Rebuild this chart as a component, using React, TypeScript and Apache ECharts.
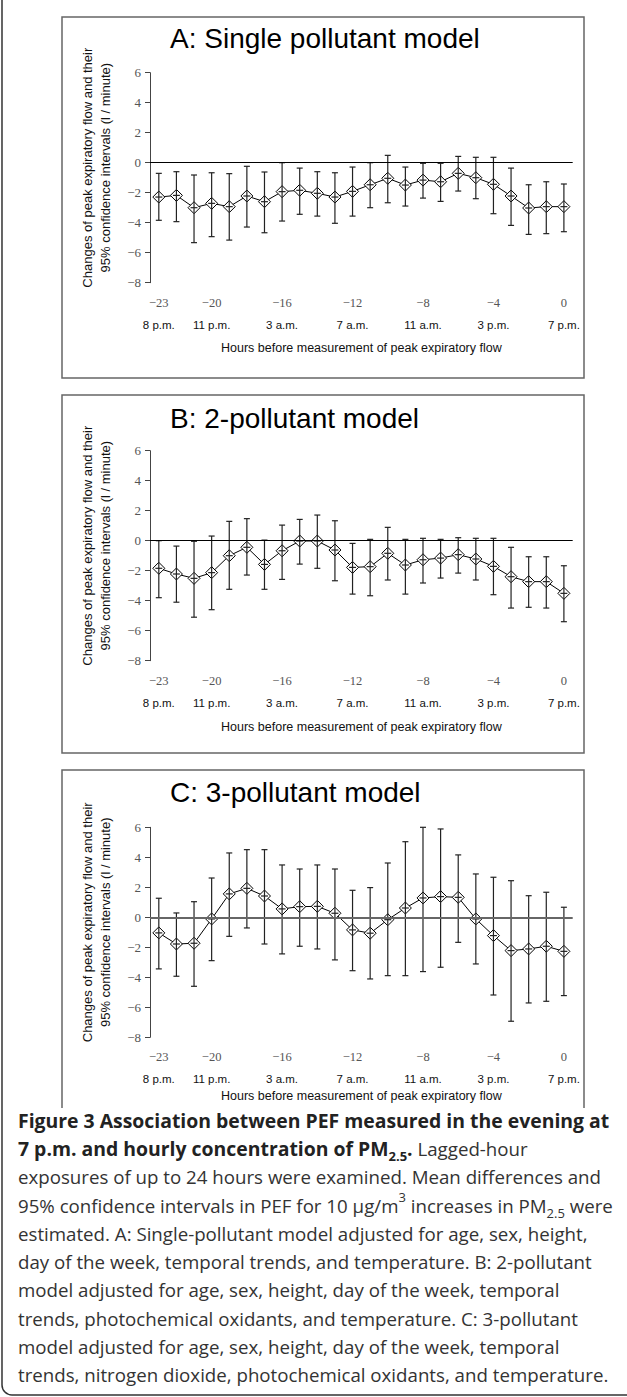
import React, { useEffect, useRef } from "react";
import * as echarts from "echarts";

// ---------- data ----------
const lags = ["-23", "-22", "-21", "-20", "-19", "-18", "-17", "-16", "-15", "-14", "-13", "-12",
  "-11", "-10", "-9", "-8", "-7", "-6", "-5", "-4", "-3", "-2", "-1", "0"];
const tickLags = ["-23", "-20", "-16", "-12", "-8", "-4", "0"];
const timeLabels = ["8 p.m.", "11 p.m.", "3 a.m.", "7 a.m.", "11 a.m.", "3 p.m.", "7 p.m."];
const yTicks = [-8, -6, -4, -2, 0, 2, 4, 6];

const panelTitles = ["A: Single pollutant model", "B: 2-pollutant model", "C: 3-pollutant model"];

const meanA = [-2.29, -2.18, -3.0, -2.71, -2.93, -2.22, -2.6, -1.93, -1.84, -2.04, -2.29, -1.91,
  -1.47, -1.04, -1.49, -1.16, -1.27, -0.71, -1.0, -1.44, -2.22, -3.02, -2.93, -2.93];
const upperA = [-0.71, -0.6, -0.82, -0.67, -0.73, -0.24, -0.62, 0.0, -0.36, -0.6, -0.67, -0.29,
  0.0, 0.49, -0.29, -0.04, -0.04, 0.42, 0.36, 0.36, -0.36, -1.47, -1.27, -1.42];
const lowerA = [-3.84, -3.93, -5.33, -4.93, -5.16, -4.29, -4.67, -3.89, -3.44, -3.56, -4.04, -3.56,
  -3.0, -2.67, -2.89, -2.36, -2.58, -1.89, -2.4, -3.4, -4.18, -4.78, -4.73, -4.6];

const meanB = [-1.84, -2.22, -2.51, -2.13, -1.0, -0.44, -1.58, -0.67, -0.02, -0.02, -0.62, -1.78,
  -1.73, -0.84, -1.62, -1.27, -1.16, -0.93, -1.22, -1.71, -2.4, -2.73, -2.73, -3.51];
const upperB = [0.0, -0.36, -0.04, 0.31, 1.29, 1.47, 0.04, 1.04, 1.42, 1.71, 1.33, -0.18,
  0.09, 0.89, 0.09, 0.16, 0.09, 0.2, 0.16, 0.16, -0.44, -1.07, -1.07, -1.67];
const lowerB = [-3.8, -4.1, -5.1, -4.6, -3.24, -2.29, -3.24, -2.58, -1.56, -1.84, -2.67, -3.56,
  -3.67, -2.62, -3.56, -2.82, -2.49, -2.16, -2.62, -3.6, -4.49, -4.44, -4.49, -5.4];

const meanC = [-1.04, -1.78, -1.73, -0.11, 1.56, 1.93, 1.42, 0.56, 0.71, 0.73, 0.27, -0.84,
  -1.06, -0.16, 0.62, 1.29, 1.38, 1.33, -0.11, -1.22, -2.22, -2.11, -1.93, -2.27];
const upperC = [1.27, 0.29, 1.04, 2.62, 4.29, 4.51, 4.51, 3.49, 3.22, 3.49, 3.22, 1.8,
  1.98, 3.62, 5.04, 6.0, 5.89, 4.16, 2.89, 2.67, 2.44, 1.44, 1.67, 0.67];
const lowerC = [-3.44, -3.93, -4.6, -2.89, -1.27, -0.71, -1.78, -2.44, -1.93, -2.11, -2.84, -3.56,
  -4.11, -3.89, -3.89, -3.62, -3.33, -1.67, -3.11, -5.18, -6.93, -5.71, -5.6, -5.22];

const yTitleLines = ["Changes of peak expiratory flow and their", "95% confidence intervals (l / minute)"];
const xTitle = "Hours before measurement of peak expiratory flow";

const captionRich =
  "{b|Figure 3 Association between PEF measured in the evening at}\n" +
  "{b|7 p.m. and hourly concentration of PM}{bs|2.5}{b|.}{r| Lagged-hour}\n" +
  "{r|exposures of up to 24 hours were examined. Mean differences and}\n" +
  "{r|95% confidence intervals in PEF for 10 µg/m}{sup|3}{r| increases in PM}{sub|2.5}{r| were}\n" +
  "{r|estimated. A: Single-pollutant model adjusted for age, sex, height,}\n" +
  "{r|day of the week, temporal trends, and temperature. B: 2-pollutant}\n" +
  "{r|model adjusted for age, sex, height, day of the week, temporal}\n" +
  "{r|trends, photochemical oxidants, and temperature. C: 3-pollutant}\n" +
  "{r|model adjusted for age, sex, height, day of the week, temporal}\n" +
  "{r|trends, nitrogen dioxide, photochemical oxidants, and temperature.}";

const panels = [
  { mean: meanA, upper: upperA, lower: lowerA },
  { mean: meanB, upper: upperB, lower: lowerB },
  { mean: meanC, upper: upperC, lower: lowerC },
];

// ---------- layout ----------
const W = 627;
const H = 1397;
const GRID_LEFT = 150;
const GRID_W = 422.7;
const GRID_H = 210;
const gridTops = [72.7, 450.7, 827.3];
const titleY = [38, 418, 792];
const xTitleOffset = [65, 66, 59];
const zeroLineColor = ["#000", "#000", "#666"];
const zeroLineWidth = [1, 1, 1.8];

const minus = (s: string) => s.replace("-", "\u2212");

function errorRender(params: any, api: any) {
  const x = api.value(0);
  const lo = api.coord([x, api.value(1)]);
  const hi = api.coord([x, api.value(2)]);
  const mid = api.coord([x, api.value(3)]);
  const cap = 3;
  const cross = 3.5;
  const style = { stroke: "#222", lineWidth: 1.2 };
  return {
    type: "group",
    children: [
      { type: "line", shape: { x1: hi[0], y1: hi[1], x2: lo[0], y2: lo[1] }, style },
      { type: "line", shape: { x1: hi[0] - cap, y1: hi[1], x2: hi[0] + cap, y2: hi[1] }, style },
      { type: "line", shape: { x1: lo[0] - cap, y1: lo[1], x2: lo[0] + cap, y2: lo[1] }, style },
      { type: "line", shape: { x1: mid[0] - cross, y1: mid[1], x2: mid[0] + cross, y2: mid[1] }, style },
    ],
  };
}

function buildOption() {
  const tickIdx = tickLags.map((t) => lags.indexOf(t));
  const grids: any[] = [];
  const xAxes: any[] = [];
  const yAxes: any[] = [];
  const series: any[] = [];
  const graphics: any[] = [];

  // outer rounded frame (only left/bottom visible)
  graphics.push({
    type: "rect",
    shape: { x: 2, y: -20, width: 700, height: 1415, r: 10 },
    style: { fill: "none", stroke: "#333", lineWidth: 1.5 },
  });
  // panel boxes
  graphics.push({
    type: "rect",
    shape: { x: 62, y: 17, width: 522, height: 361 },
    style: { fill: "none", stroke: "#666", lineWidth: 1.5 },
  });
  graphics.push({
    type: "rect",
    shape: { x: 62, y: 395, width: 522, height: 358 },
    style: { fill: "none", stroke: "#666", lineWidth: 1.5 },
  });
  graphics.push({
    type: "polyline",
    shape: { points: [[62, 1108], [62, 770], [584, 770], [584, 1108]] },
    style: { fill: "none", stroke: "#666", lineWidth: 1.5 },
  });

  panels.forEach((p, i) => {
    const top = gridTops[i];
    grids.push({ left: GRID_LEFT, top, width: GRID_W, height: GRID_H, containLabel: false });
    xAxes.push({
      type: "category",
      gridIndex: i,
      data: lags,
      boundaryGap: true,
      axisLine: { show: false },
      axisTick: { show: false },
      splitLine: { show: false },
      axisLabel: {
        interval: (idx: number) => tickIdx.indexOf(idx) >= 0,
        margin: 9,
        formatter: (v: string) => {
          const k = tickLags.indexOf(v);
          return `{n|${minus(v)}}\n{t|${timeLabels[k]}}`;
        },
        rich: {
          n: { fontFamily: "Liberation Serif", fontSize: 12.5, color: "#555", lineHeight: 22 },
          t: { fontFamily: "Liberation Sans", fontSize: 11.5, color: "#111", lineHeight: 22 },
        },
      },
    });
    yAxes.push({
      type: "value",
      gridIndex: i,
      min: yTicks[0],
      max: yTicks[yTicks.length - 1],
      interval: 2,
      axisLine: { show: true, lineStyle: { color: "#444", width: 1 } },
      axisTick: { show: true, length: 5, lineStyle: { color: "#444" } },
      splitLine: { show: false },
      axisLabel: {
        margin: 9,
        fontFamily: "Liberation Serif",
        fontSize: 13,
        color: "#555",
        formatter: (v: number) => minus(String(v)),
      },
    });
    series.push({
      type: "line",
      xAxisIndex: i,
      yAxisIndex: i,
      data: p.mean,
      symbol: "diamond",
      symbolSize: 12,
      showSymbol: true,
      showAllSymbol: true,
      z: 2,
      itemStyle: { color: "#fff", borderColor: "#000", borderWidth: 1 },
      lineStyle: { color: "#000", width: 1 },
      markLine: {
        silent: true,
        symbol: ["none", "none"],
        label: { show: false },
        lineStyle: { color: zeroLineColor[i], width: zeroLineWidth[i], type: "solid" },
        data: [{ yAxis: 0 }],
      },
    });
    series.push({
      type: "custom",
      xAxisIndex: i,
      yAxisIndex: i,
      z: 3,
      renderItem: errorRender,
      encode: { x: 0, y: [1, 2, 3] },
      data: lags.map((_, k) => [k, p.lower[k], p.upper[k], p.mean[k]]),
    });

    // panel title
    graphics.push({
      type: "text",
      x: 170,
      y: titleY[i],
      style: {
        text: panelTitles[i],
        fontFamily: "Liberation Sans",
        fontSize: 28,
        fill: "#000",
        textAlign: "left",
        textVerticalAlign: "middle",
      },
    });
    // y-axis title
    graphics.push({
      type: "text",
      x: 96,
      y: top + 95,
      rotation: Math.PI / 2,
      style: {
        text: yTitleLines.join("\n"),
        fontFamily: "Liberation Sans",
        fontSize: 13,
        lineHeight: 18,
        fill: "#111",
        textAlign: "center",
        textVerticalAlign: "middle",
      },
    });
    // x-axis title
    graphics.push({
      type: "text",
      x: GRID_LEFT + GRID_W / 2,
      y: top + GRID_H + xTitleOffset[i],
      style: {
        text: xTitle,
        fontFamily: "Liberation Sans",
        fontSize: 12.5,
        fill: "#111",
        textAlign: "center",
        textVerticalAlign: "middle",
      },
    });
  });

  // caption
  const base = { fontFamily: "Open Sans", fontSize: 18.7, lineHeight: 28.3 };
  graphics.push({
    type: "text",
    x: 18,
    y: 1106,
    style: {
      text: captionRich,
      textAlign: "left",
      textVerticalAlign: "top",
      rich: {
        b: { ...base, fontSize: 19.4, fontWeight: "bold", fill: "#222" },
        r: { ...base, fontWeight: "normal", fill: "#333" },
        bs: { fontFamily: "Open Sans", fontSize: 13, fontWeight: "bold", fill: "#222", lineHeight: 16, verticalAlign: "bottom" },
        sub: { fontFamily: "Open Sans", fontSize: 13, fill: "#333", lineHeight: 16, verticalAlign: "bottom" },
        sup: { fontFamily: "Open Sans", fontSize: 13, fill: "#333", lineHeight: 18, verticalAlign: "top" },
      },
    },
  });

  return {
    animation: false,
    backgroundColor: "#fff",
    grid: grids,
    xAxis: xAxes,
    yAxis: yAxes,
    series,
    graphic: { elements: graphics },
  };
}

export default function App() {
  const ref = useRef<HTMLDivElement>(null);
  useEffect(() => {
    document.body.style.margin = "0";
    if (!ref.current) return;
    const chart = echarts.init(ref.current, undefined, { renderer: "svg", width: W, height: H });
    chart.setOption(buildOption() as any);
    return () => chart.dispose();
  }, []);
  return <div ref={ref} style={{ width: W, height: H }} />;
}
